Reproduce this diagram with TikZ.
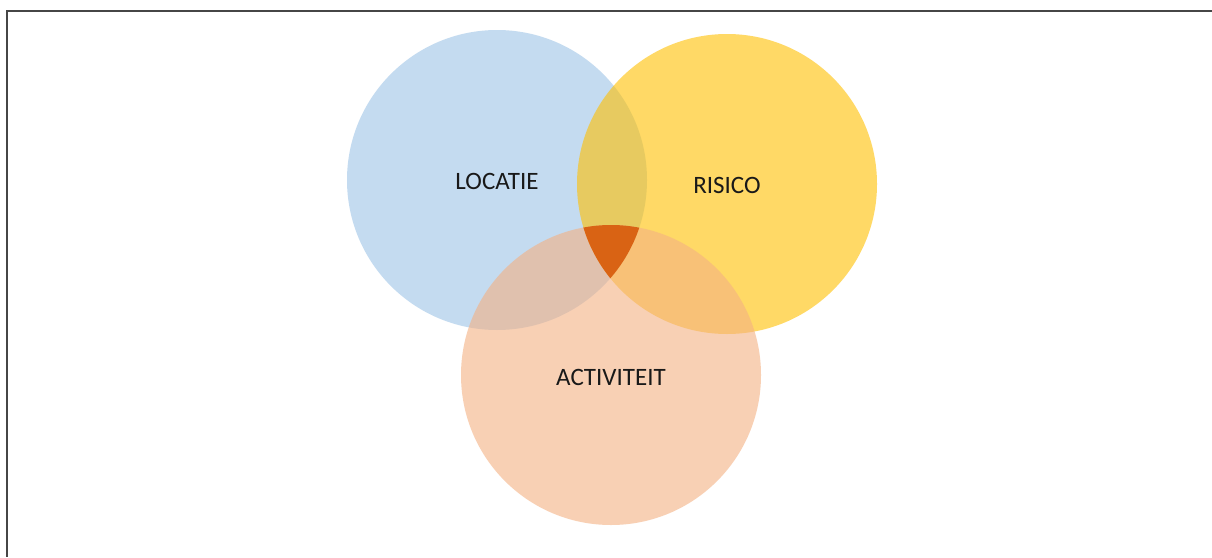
\documentclass[tikz,border=0pt]{standalone}
\usepackage{fontspec}
\setmainfont{Carlito}
\definecolor{cblue}{HTML}{9DC3E6}
\definecolor{cyellow}{HTML}{FFC000}
\definecolor{cpeach}{HTML}{F4B183}
\definecolor{ccore}{RGB}{217,99,20}
\definecolor{frame}{RGB}{70,70,70}
\tikzset{
  venn/.style={fill opacity=0.6, draw=none},
  lbl/.style={font=\fontsize{25}{29}\selectfont, text=black!90},
}
\begin{document}
\begin{tikzpicture}[x=1pt,y=-1pt]
\useasboundingbox (0,0) rectangle (1212,557);
\fill[white] (0,0) rectangle (1212,557);
\coordinate (tr) at (1212,11);
\coordinate (tl) at (7,11);
\coordinate (bl) at (7,557);
\draw[frame, line width=2pt] (tr) -- (tl) -- (bl);
\fill[cblue, venn] (497,180) circle (150);
\fill[cyellow, venn] (727,184) circle (150);
\fill[cpeach, venn] (611,375) circle (150);
\begin{scope}
  \clip (497,180) circle (150);
  \clip (727,184) circle (150);
  \fill[ccore] (611,375) circle (150);
\end{scope}
\node[lbl] (loc) at (497,181) {LOCATIE};
\node[lbl] (ris) at (727,185) {RISICO};
\node[lbl] (act) at (611,377) {ACTIVITEIT};
\end{tikzpicture}
\end{document}
